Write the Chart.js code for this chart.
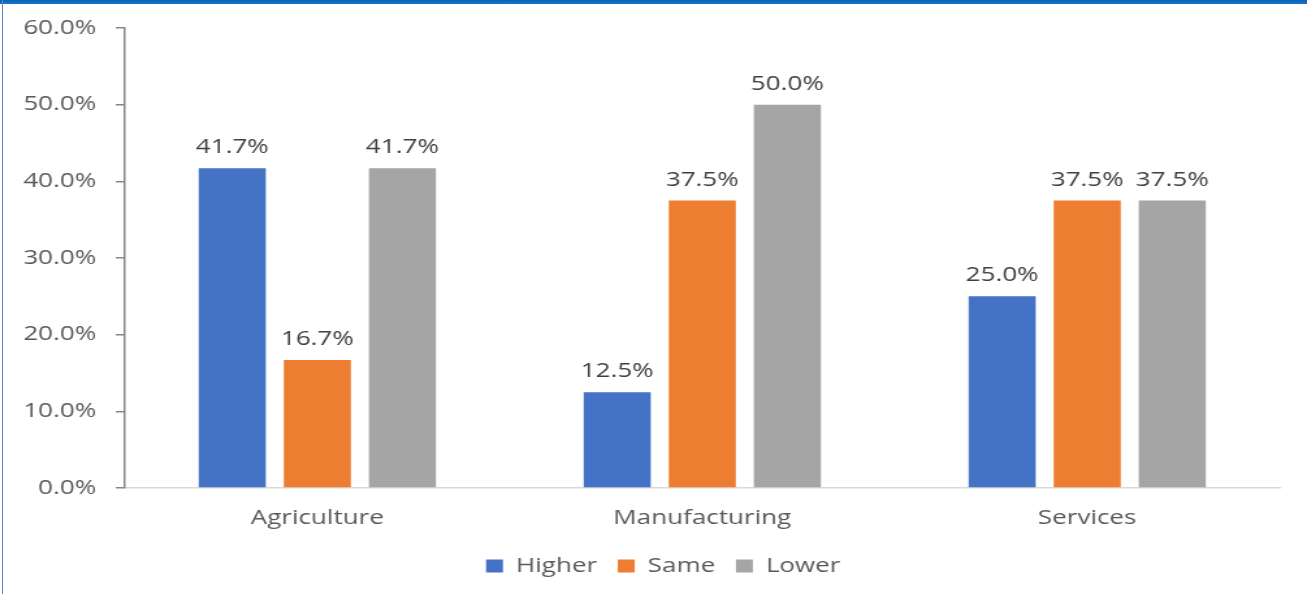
<!DOCTYPE html>
<html>
<head>
<meta charset="utf-8">
<title>Higher / Same / Lower by sector</title>
<script src="https://cdn.jsdelivr.net/npm/chart.js@4.4.1/dist/chart.umd.min.js"></script>
<style>
    html, body { margin: 0; padding: 0; background: #fff; }
    #frame { position: relative; width: 1307px; height: 594px; overflow: hidden; background: #fff; }
    /* the canvas is drawn narrower and widened with CSS so the lettering gets its broad look */
    #sectorChart { position: absolute; left: 0; top: 0; width: 1005px; height: 594px; transform-origin: 0 0; transform: scaleX(1.3005); }
    #topBar { position: absolute; left: 0; top: 0; width: 1307px; height: 4px; background: linear-gradient(#0a62b6, #1877cb); }
    #leftLine { position: absolute; left: 2px; top: 0; width: 1px; height: 594px; background: #5d80cf; }
</style>
</head>
<body>
<div id="frame">
    <canvas id="sectorChart" width="1005" height="594"></canvas>
    <div id="topBar"></div>
    <div id="leftLine"></div>
</div>
<script>
const sectors = ['Agriculture', 'Manufacturing', 'Services'];
const higher = [41.7, 12.5, 25.0];
const same = [16.7, 37.5, 37.5];
const lower = [41.7, 50.0, 37.5];
const yTicks = [0, 10, 20, 30, 40, 50, 60];

const FONT = "'Open Sans', 'Noto Sans', sans-serif";
const TEXT = '#595959';

// value labels above each bar
const barLabels = {
    id: 'barLabels',
    afterDatasetsDraw(chart) {
        const ctx = chart.ctx;
        ctx.save();
        ctx.font = '20px ' + FONT;
        ctx.fillStyle = '#404040';
        ctx.textAlign = 'center';
        ctx.textBaseline = 'alphabetic';
        chart.data.datasets.forEach((ds, i) => {
            chart.getDatasetMeta(i).data.forEach((bar, j) => {
                ctx.fillText(ds.data[j].toFixed(1) + '%', bar.x, bar.y - 15);
            });
        });
        ctx.restore();
    },
};

// legend sits a little right of the canvas centre
const legendNudge = {
    id: 'legendNudge',
    afterLayout(chart) {
        chart.legend.left += 18;
        chart.legend.right += 18;
    },
};

new Chart(document.getElementById('sectorChart'), {
    type: 'bar',
    data: {
        labels: sectors,
        datasets: [
            { label: 'Higher', data: higher, backgroundColor: '#4472C4' },
            { label: 'Same', data: same, backgroundColor: '#ED7D31' },
            { label: 'Lower', data: lower, backgroundColor: '#A5A5A5' },
        ],
    },
    options: {
        responsive: false,
        animation: false,
        datasets: {
            bar: {
                borderWidth: 0,
                barPercentage: 0.788,
                categoryPercentage: 0.663,
            },
        },
        layout: {
            padding: { top: 28, right: 21, bottom: 8, left: 0 },
        },
        scales: {
            x: {
                afterFit: scale => {
                    scale.height = 52;
                },
                grid: { display: false, drawTicks: false },
                border: { display: true, color: '#d9d9d9', width: 1.5 },
                ticks: {
                    padding: 18,
                    color: TEXT,
                    font: { family: FONT, size: 20 },
                },
            },
            y: {
                min: 0,
                max: 60,
                afterBuildTicks: scale => {
                    scale.ticks = yTicks.map(value => ({ value }));
                },
                afterFit: scale => {
                    scale.width = 96;
                },
                grid: {
                    drawOnChartArea: false,
                    drawTicks: true,
                    tickLength: 7,
                    color: '#868686',
                    lineWidth: 1.5,
                },
                border: { display: true, color: '#868686', width: 1.5 },
                ticks: {
                    padding: 15,
                    color: TEXT,
                    font: { family: FONT, size: 20 },
                    callback: value => value.toFixed(1) + '%',
                },
            },
        },
        plugins: {
            legend: {
                position: 'bottom',
                labels: {
                    boxWidth: 13,
                    boxHeight: 13,
                    padding: 16,
                    color: TEXT,
                    font: { family: FONT, size: 20 },
                },
            },
            tooltip: { enabled: false },
        },
    },
    plugins: [barLabels, legendNudge],
});
</script>
</body>
</html>
